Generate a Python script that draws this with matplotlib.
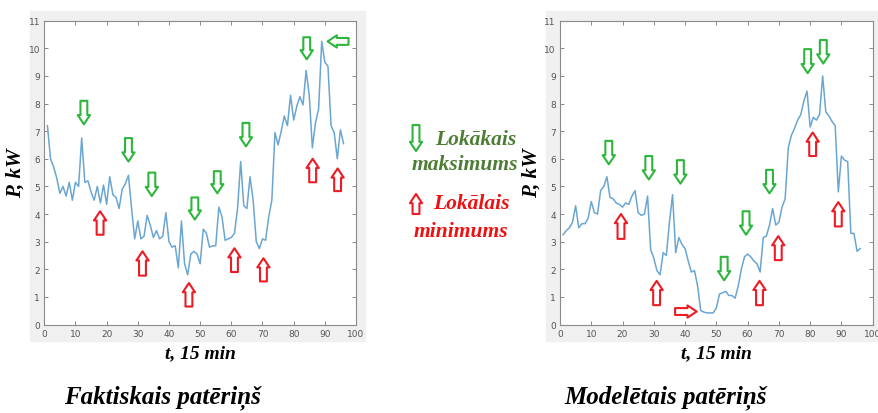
import matplotlib
matplotlib.use("Agg")
import matplotlib.pyplot as plt
from matplotlib.patches import Rectangle

# laiks (15 min intervali) un jauda, kW
t = list(range(1, 97))
fakt = [7.2, 6.0, 5.7, 5.3, 4.75, 5.0, 4.65, 5.15, 4.5, 5.15, 5.0, 6.75,
        5.15, 5.2, 4.8, 4.5, 5.0, 4.4, 5.05, 4.35, 5.35, 4.7, 4.6, 4.2, 4.9, 5.1, 5.4,
        4.2, 3.1, 3.75, 3.1, 3.2, 3.95, 3.6, 3.15, 3.4, 3.1, 3.2, 4.05,
        3.0, 2.8, 2.85, 2.05, 3.75, 2.2, 1.8, 2.55, 2.65, 2.55, 2.2, 3.45, 3.3, 2.8, 2.85, 2.85, 4.25,
        3.9, 3.05, 3.1, 3.15, 3.3, 4.2, 5.9,
        4.3, 4.2, 5.35, 4.5, 3.0, 2.75, 3.1, 3.05, 3.9, 4.5, 6.95,
        6.5, 7.0, 7.55, 7.2, 8.3, 7.4, 7.9, 8.25, 7.95, 9.2, 8.3, 6.4, 7.3, 7.8,
        10.25, 9.5, 9.35, 7.2, 6.95, 6.0, 7.05, 6.55]
model = [3.25, 3.4, 3.5, 3.7, 4.3, 3.5, 3.65, 3.65, 3.85, 4.45, 4.05, 4.0, 4.85, 5.0, 5.35,
         4.6, 4.55, 4.4, 4.35, 4.25, 4.4, 4.35, 4.65, 4.85, 4.05, 3.95, 4.0, 4.65,
         2.7, 2.4, 1.95, 1.8, 2.6, 2.5, 3.7, 4.7, 2.6, 3.15, 2.9, 2.75, 2.3, 1.9, 1.95, 1.4,
         0.5, 0.45, 0.42, 0.42, 0.42, 0.6, 1.1, 1.15, 1.2, 1.05, 1.05, 0.95,
         1.4, 2.0, 2.45, 2.55, 2.45, 2.3, 2.2, 1.9, 3.15, 3.2, 3.6, 4.2, 3.6, 3.7, 4.25, 4.55,
         6.4, 6.85, 7.1, 7.4, 7.6, 8.1, 8.45, 7.15, 7.5, 7.4, 7.6, 9.0, 7.7, 7.55, 7.35, 7.2,
         4.8, 6.1, 5.95, 5.9, 3.3, 3.3, 2.65, 2.75]

# bultas: (x_sakums, y_sakums, x_gals, y_gals)
fakt_max = [(12.7, 8.1, 12.7, 7.25), (27.0, 6.75, 27.0, 5.9), (34.5, 5.5, 34.5, 4.65),
            (48.3, 4.6, 48.3, 3.8), (55.5, 5.55, 55.5, 4.75), (64.7, 7.3, 64.7, 6.45),
            (84.2, 10.4, 84.2, 9.6), (97.6, 10.25, 90.9, 10.25)]
fakt_min = [(17.9, 3.25, 17.9, 4.1), (31.5, 1.77, 31.5, 2.65), (46.4, 0.65, 46.4, 1.5),
            (61.0, 1.9, 61.0, 2.76), (70.3, 1.56, 70.3, 2.4), (86.1, 5.15, 86.1, 6.0),
            (94.1, 4.83, 94.1, 5.65)]
model_max = [(15.6, 6.65, 15.6, 5.8), (28.4, 6.1, 28.4, 5.25), (38.5, 5.95, 38.5, 5.1),
             (52.5, 2.45, 52.5, 1.6), (59.5, 4.1, 59.5, 3.25), (67.0, 5.6, 67.0, 4.75),
             (79.2, 9.97, 79.2, 9.1), (84.2, 10.3, 84.2, 9.45)]
model_min = [(19.5, 3.1, 19.5, 4.0), (30.9, 0.7, 30.9, 1.58), (63.8, 0.7, 63.8, 1.58),
             (69.8, 2.33, 69.8, 3.2), (80.8, 6.1, 80.8, 6.95), (89.0, 3.55, 89.0, 4.43),
             (36.8, 0.47, 43.7, 0.47)]

GREEN = '#2db63c'
RED = '#ec1c24'
LINE = '#6aa6d2'
serif = dict(family='Liberation Serif', weight='bold', style='italic')

fig = plt.figure(figsize=(8.79, 4.14), dpi=100)
fig.patch.set_facecolor('white')
# pelekie MATLAB fona laukumi
fig.add_artist(Rectangle((30 / 879, 1 - 342 / 414), 335 / 879, 330 / 414,
                         transform=fig.transFigure, color='#f0f0f0', zorder=0))
fig.add_artist(Rectangle((546 / 879, 1 - 342 / 414), 333 / 879, 330 / 414,
                         transform=fig.transFigure, color='#f0f0f0', zorder=0))

ax1 = fig.add_axes([44.3 / 879, 1 - 325.5 / 414, 311.7 / 879, 303.8 / 414])
ax2 = fig.add_axes([560 / 879, 1 - 325.5 / 414, 312.7 / 879, 303.8 / 414])


def bulta(ax, x0, y0, x1, y1, c, coords='data'):
    ax.annotate('', xy=(x1, y1), xytext=(x0, y0), xycoords=coords, textcoords=coords,
                annotation_clip=False,
                arrowprops=dict(arrowstyle='simple,head_length=0.6,head_width=0.8,tail_width=0.45',
                                mutation_scale=11, fc='white', ec=c, lw=1.5,
                                shrinkA=0, shrinkB=0))


for ax, y, mx, mn in [(ax1, fakt, fakt_max, fakt_min), (ax2, model, model_max, model_min)]:
    ax.plot(t, y, color=LINE, lw=1.1)
    ax.set_xlim(0, 100)
    ax.set_ylim(0, 11)
    ax.set_xticks(range(0, 101, 10))
    ax.set_yticks(range(0, 12))
    ax.tick_params(direction='in', top=True, right=True, length=3, width=0.6,
                   colors='#777777', labelsize=6.5, labelcolor='#555555', pad=3)
    for s in ax.spines.values():
        s.set_color('#8a8a8a')
        s.set_linewidth(0.8)
    ax.set_xlabel('t, 15 min', fontsize=14, labelpad=5, **serif)
    ax.set_ylabel('P, kW', fontsize=15, labelpad=2, **serif)
    for a in mx:
        bulta(ax, *a, GREEN)
    for a in mn:
        bulta(ax, *a, RED)

fig.text(162 / 879, 1 - 398 / 414, 'Faktiskais patēriņš', ha='center', va='center',
         fontsize=18, **serif)
fig.text(666 / 879, 1 - 398 / 414, 'Modelētais patēriņš', ha='center', va='center',
         fontsize=18, **serif)

# apzimejumi
bulta(ax1, 416, 414 - 126, 416, 414 - 152, GREEN, coords='figure pixels')
bulta(ax1, 416, 414 - 215, 416, 414 - 195, RED, coords='figure pixels')
fig.text(476 / 879, 1 - 140 / 414, 'Lokākais', ha='center', va='center', fontsize=15.5,
         color='#4e7d35', **serif)
fig.text(465 / 879, 1 - 165 / 414, 'maksimums', ha='center', va='center', fontsize=15.5,
         color='#4e7d35', **serif)
fig.text(471 / 879, 1 - 204 / 414, 'Lokālais', ha='center', va='center', fontsize=15.5,
         color='#ee1111', **serif)
fig.text(461 / 879, 1 - 232 / 414, 'minimums', ha='center', va='center', fontsize=15.5,
         color='#ee1111', **serif)

fig.savefig('out.png', dpi=100)
